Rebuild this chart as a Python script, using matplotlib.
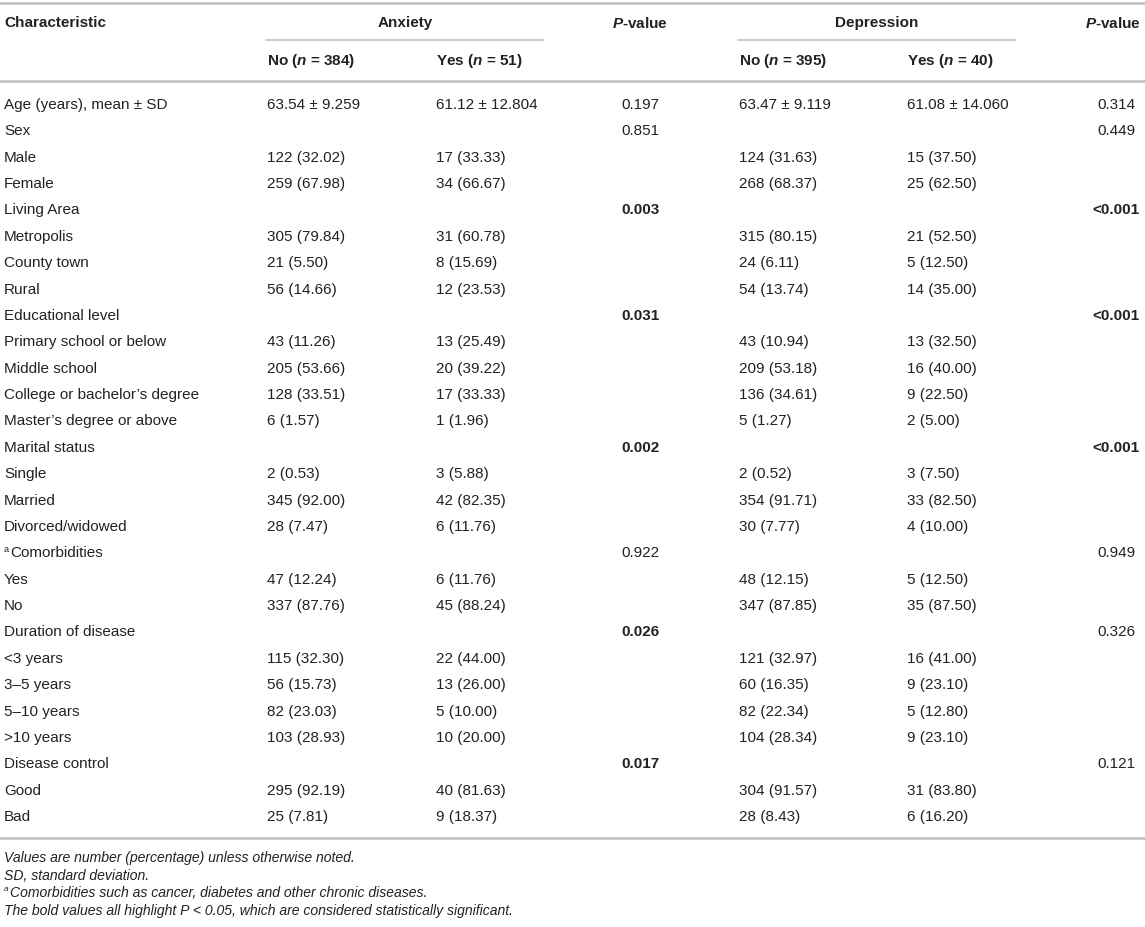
import matplotlib
matplotlib.use("Agg")
import matplotlib.pyplot as plt

plt.rcParams['font.family'] = ['Liberation Sans', 'DejaVu Sans']
plt.rcParams['mathtext.fontset'] = 'custom'
plt.rcParams['mathtext.rm'] = 'Liberation Sans'
plt.rcParams['mathtext.it'] = 'Liberation Sans:italic'
plt.rcParams['mathtext.bf'] = 'Liberation Sans:bold'
plt.rcParams['mathtext.bfit'] = 'Liberation Sans:italic:bold'

labels = ["Age (years), mean ± SD", "Sex", "Male", "Female", "Living Area",
          "Metropolis", "County town", "Rural", "Educational level",
          "Primary school or below", "Middle school", "College or bachelor’s degree",
          "Master’s degree or above", "Marital status", "Single", "Married",
          "Divorced/widowed", "Comorbidities", "Yes", "No", "Duration of disease",
          "<3 years", "3–5 years", "5–10 years", ">10 years", "Disease control",
          "Good", "Bad"]
anx_no = ["63.54 ± 9.259", "", "122 (32.02)", "259 (67.98)", "",
          "305 (79.84)", "21 (5.50)", "56 (14.66)", "",
          "43 (11.26)", "205 (53.66)", "128 (33.51)", "6 (1.57)", "",
          "2 (0.53)", "345 (92.00)", "28 (7.47)", "", "47 (12.24)", "337 (87.76)", "",
          "115 (32.30)", "56 (15.73)", "82 (23.03)", "103 (28.93)", "",
          "295 (92.19)", "25 (7.81)"]
anx_yes = ["61.12 ± 12.804", "", "17 (33.33)", "34 (66.67)", "",
           "31 (60.78)", "8 (15.69)", "12 (23.53)", "",
           "13 (25.49)", "20 (39.22)", "17 (33.33)", "1 (1.96)", "",
           "3 (5.88)", "42 (82.35)", "6 (11.76)", "", "6 (11.76)", "45 (88.24)", "",
           "22 (44.00)", "13 (26.00)", "5 (10.00)", "10 (20.00)", "",
           "40 (81.63)", "9 (18.37)"]
anx_p = ["0.197", "0.851", "", "", "0.003", "", "", "", "0.031", "", "", "", "",
         "0.002", "", "", "", "0.922", "", "", "0.026", "", "", "", "", "0.017", "", ""]
dep_no = ["63.47 ± 9.119", "", "124 (31.63)", "268 (68.37)", "",
          "315 (80.15)", "24 (6.11)", "54 (13.74)", "",
          "43 (10.94)", "209 (53.18)", "136 (34.61)", "5 (1.27)", "",
          "2 (0.52)", "354 (91.71)", "30 (7.77)", "", "48 (12.15)", "347 (87.85)", "",
          "121 (32.97)", "60 (16.35)", "82 (22.34)", "104 (28.34)", "",
          "304 (91.57)", "28 (8.43)"]
dep_yes = ["61.08 ± 14.060", "", "15 (37.50)", "25 (62.50)", "",
           "21 (52.50)", "5 (12.50)", "14 (35.00)", "",
           "13 (32.50)", "16 (40.00)", "9 (22.50)", "2 (5.00)", "",
           "3 (7.50)", "33 (82.50)", "4 (10.00)", "", "5 (12.50)", "35 (87.50)", "",
           "16 (41.00)", "9 (23.10)", "5 (12.80)", "9 (23.10)", "",
           "31 (83.80)", "6 (16.20)"]
dep_p = ["0.314", "0.449", "", "", "<0.001", "", "", "", "<0.001", "", "", "", "",
         "<0.001", "", "", "", "0.949", "", "", "0.326", "", "", "", "", "0.121", "", ""]
footnotes = ["Values are number (percentage) unless otherwise noted.",
             "SD, standard deviation.",
             "Comorbidities such as cancer, diabetes and other chronic diseases.",
             "The bold values all highlight P < 0.05, which are considered statistically significant."]


def is_sig(p):
    if p.startswith("<"):
        return True
    return p != "" and float(p) < 0.05


W, H = 1145, 928
fig = plt.figure(figsize=(W / 100, H / 100), dpi=100)
ax = fig.add_axes([0, 0, 1, 1])
ax.set_xlim(0, W)
ax.set_ylim(H, 0)
ax.axis("off")

txt = "#222222"
line_c = "#bdbdbd"
fs = 11
fs_note = 10.1

# column positions
x_lab, x_an, x_ay, x_p1, x_dn, x_dy, x_p2 = 4, 267, 436, 640, 739, 907, 1116

# rules
ax.plot([0, W], [4, 4], color=line_c, lw=1.8)
ax.plot([0, W], [82, 82], color=line_c, lw=1.8)
ax.plot([0, W], [839, 839], color=line_c, lw=1.8)
ax.plot([266, 543], [41, 41], color=line_c, lw=1.1)
ax.plot([738, 1015], [41, 41], color=line_c, lw=1.1)

# headers
hy1, hy2 = 23, 61
ax.text(x_lab, hy1, "Characteristic", fontsize=fs, fontweight="bold", color=txt, va="center")
ax.text(405, hy1, "Anxiety", fontsize=fs, fontweight="bold", color=txt, va="center", ha="center")
ax.text(877, hy1, "Depression", fontsize=fs, fontweight="bold", color=txt, va="center", ha="center")
for xc in (x_p1, 1113):
    ax.text(xc, hy1, r"$\mathbfit{P}$-value", fontsize=fs, fontweight="bold", color=txt,
            va="center", ha="center")
for x0, s in ((x_an, "No ($\\mathbfit{n}$ = 384)"), (x_ay, "Yes ($\\mathbfit{n}$ = 51)"),
              (x_dn, "No ($\\mathbfit{n}$ = 395)"), (x_dy, "Yes ($\\mathbfit{n}$ = 40)")):
    ax.text(x0, hy2, s, fontsize=fs, fontweight="bold", color=txt, va="center")

# body
y0, dy = 105, (817 - 105) / 27
for i, lab in enumerate(labels):
    y = y0 + i * dy
    if lab == "Comorbidities":
        ax.text(x_lab, y - 4, "a", fontsize=fs * 0.6, color=txt, va="center")
        ax.text(x_lab + 6, y, lab, fontsize=fs, color=txt, va="center")
    else:
        ax.text(x_lab, y, lab, fontsize=fs, color=txt, va="center")
    ax.text(x_an, y, anx_no[i], fontsize=fs, color=txt, va="center")
    ax.text(x_ay, y, anx_yes[i], fontsize=fs, color=txt, va="center")
    ax.text(x_dn, y, dep_no[i], fontsize=fs, color=txt, va="center")
    ax.text(x_dy, y, dep_yes[i], fontsize=fs, color=txt, va="center")
    ax.text(x_p1, y, anx_p[i], fontsize=fs, color=txt, va="center", ha="center",
            fontweight="bold" if is_sig(anx_p[i]) else "normal")
    ax.text(x_p2, y, dep_p[i], fontsize=fs, color=txt, va="center", ha="center",
            fontweight="bold" if is_sig(dep_p[i]) else "normal")

# footnotes
fy = [858, 876, 893.5, 911]
for j, note in enumerate(footnotes):
    xs = x_lab
    if j == 2:
        ax.text(x_lab, fy[j] - 4, "a", fontsize=fs_note * 0.6, style="italic", color=txt,
                va="center")
        xs = x_lab + 6
    ax.text(xs, fy[j], note, fontsize=fs_note, style="italic", color=txt, va="center")

fig.savefig("out.png", dpi=100, facecolor="white")
